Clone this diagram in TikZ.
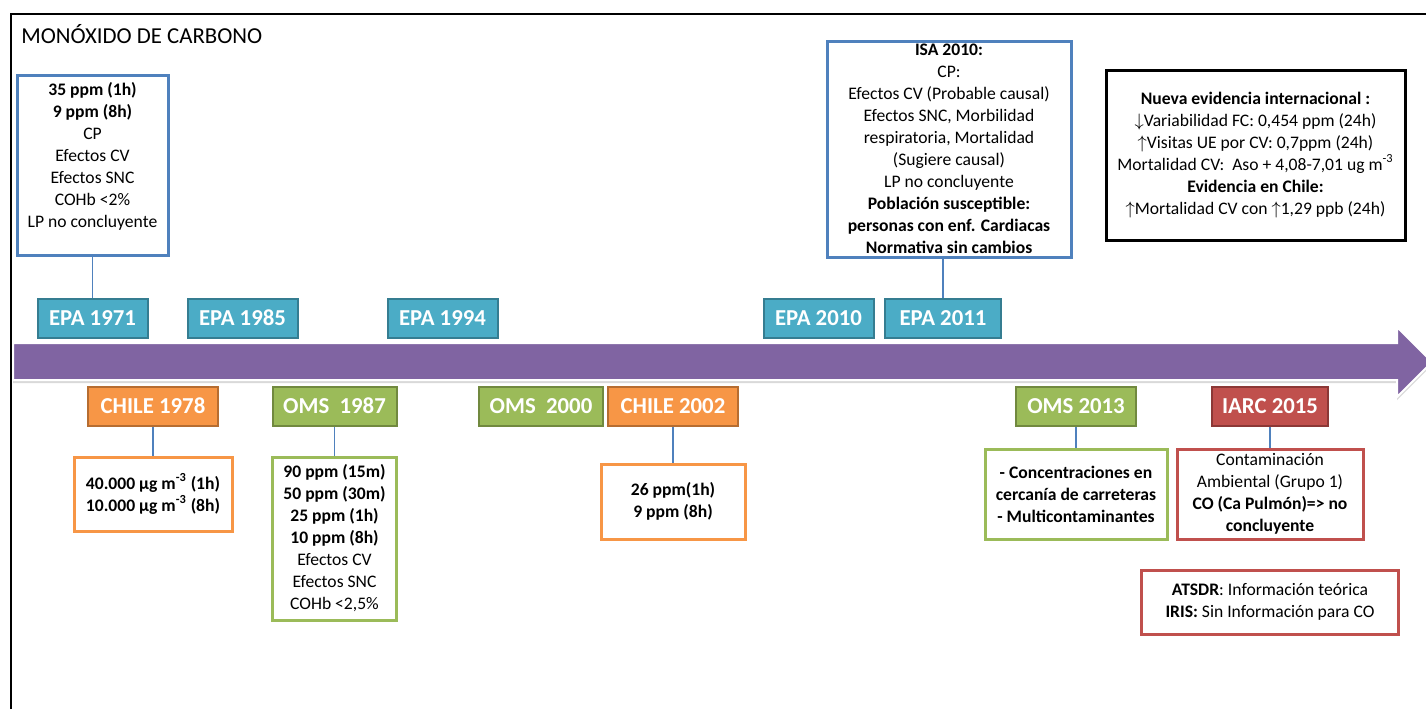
\documentclass[tikz,border=0pt]{standalone}
\usepackage{fontspec}
\setmainfont{Carlito}
\usepackage{tikz}
\usetikzlibrary{positioning}
\definecolor{boxblue}{HTML}{4F81BD}
\definecolor{epateal}{HTML}{4BACC6}
\definecolor{epaedge}{HTML}{357D91}
\definecolor{chileorange}{HTML}{F79646}
\definecolor{chileedge}{HTML}{B66D31}
\definecolor{omsgreen}{HTML}{9BBB59}
\definecolor{omsedge}{HTML}{71893F}
\definecolor{iarcred}{HTML}{C0504D}
\definecolor{iarcedge}{HTML}{8C3836}
\definecolor{timeline}{HTML}{8064A2}

\begin{document}
\begin{tikzpicture}[x=0.5pt,y=-0.5pt,
  tag/.style={line width=1pt,text=white,font=\bfseries\fontsize{11.4}{13}\selectfont,minimum height=19.5pt,inner sep=0pt},
  epatag/.style={tag,fill=epateal,draw=epaedge,minimum width=55pt},
  chiletag/.style={tag,fill=chileorange,draw=chileedge,minimum width=65pt},
  omstag/.style={tag,fill=omsgreen,draw=omsedge,minimum width=62pt},
  iarctag/.style={tag,fill=iarcred,draw=iarcedge,minimum width=58pt},
  infobox/.style={fill=white,line width=1.5pt,align=center,inner sep=0pt,font=\fontsize{8.8}{11}\selectfont},
  link/.style={boxblue,line width=0.6pt}]
\useasboundingbox (0,0) rectangle (1426,709);
\draw[line width=1pt] (11,709) -- (11,14) -- (1426,14);
\node[anchor=west,inner sep=0pt,font=\fontsize{11.4}{13}\selectfont] (title) at (21,34) {MONÓXIDO DE CARBONO};

% time axis
\fill[black!15,yshift=-1.5pt] (13,343) -- (1397,343) -- (1397,327) -- (1432,362) -- (1397,397) -- (1397,380) -- (13,380) -- cycle;
\filldraw[fill=timeline,draw=white,line width=1pt] (13,343) -- (1397,343) -- (1397,327) -- (1432,362) -- (1397,397) -- (1397,380) -- (13,380) -- cycle;

% EPA above the axis
\node[epatag] (epa71) at (92.5,318) {EPA 1971};
\node[epatag] (epa85) at (242.5,318) {EPA 1985};
\node[epatag] (epa94) at (442.5,318) {EPA 1994};
\node[epatag] (epa10) at (818.5,318) {EPA 2010};
\node[epatag,minimum width=58pt] (epa11) at (943,318) {EPA 2011};

% below the axis
\node[chiletag] (chile78) at (153,406) {CHILE 1978};
\node[omstag] (oms87) at (334.5,406) {OMS\ \ 1987};
\node[omstag] (oms00) at (541,406) {OMS\ \ 2000};
\node[chiletag] (chile02) at (673,406) {CHILE 2002};
\node[omstag,minimum width=60pt] (oms13) at (1076,406) {OMS 2013};
\node[iarctag] (iarc15) at (1270,406) {IARC 2015};

% detail boxes
\node[infobox,draw=boxblue,minimum width=75.5pt,minimum height=90pt,text depth=10pt,above=20.5pt of epa71] (epa71info) {\textbf{35 ppm (1h)}\\ \textbf{9 ppm (8h)}\\ CP\\ Efectos CV\\ Efectos SNC\\ COHb <2\%\\ LP no concluyente};
\node[infobox,draw=boxblue,minimum width=122pt,minimum height=108pt,above=19.5pt of epa11,xshift=3pt] (isa10) {\textbf{ISA 2010:}\\ CP:\\ Efectos CV (Probable causal)\\ Efectos SNC, Morbilidad\\ respiratoria, Mortalidad\\ (Sugiere causal)\\ LP no concluyente\\ \textbf{Población susceptible:}\\ \textbf{personas con enf. Cardiacas}\\ \textbf{Normativa sin cambios}};
\node[infobox,draw=black,minimum width=149.5pt,minimum height=85pt] (evidence) at (1255.5,155) {\textbf{Nueva evidencia internacional :}\\ $\downarrow$Variabilidad FC: 0,454 ppm (24h)\\ $\uparrow$Visitas UE por CV: 0,7ppm (24h)\\ Mortalidad CV:\ \ Aso + 4,08-7,01 ug m\textsuperscript{-3}\\ \textbf{Evidencia en Chile:}\\ $\uparrow$Mortalidad CV con $\uparrow$1,29 ppb (24h)};
\node[infobox,draw=chileorange,minimum width=79pt,minimum height=37pt,below=14.5pt of chile78] (chile78info) {\textbf{40.000 µg m\textsuperscript{-3} (1h)}\\ \textbf{10.000 µg m\textsuperscript{-3} (8h)}};
\node[infobox,draw=omsgreen,minimum width=62pt,minimum height=81.5pt,below=14.5pt of oms87] (oms87info) {\textbf{90 ppm (15m)}\\ \textbf{50 ppm (30m)}\\ \textbf{25 ppm (1h)}\\ \textbf{10 ppm (8h)}\\ Efectos CV\\ Efectos SNC\\ COHb <2,5\%};
\node[infobox,draw=chileorange,minimum width=72pt,minimum height=37.5pt,below=18pt of chile02] (chile02info) {\textbf{26 ppm(1h)}\\ \textbf{9 ppm (8h)}};
\node[infobox,draw=omsgreen,minimum width=91pt,minimum height=45pt,below=10.5pt of oms13] (oms13info) {\textbf{- Concentraciones en}\\ \textbf{cercanía de carreteras}\\ \textbf{- Multicontaminantes}};
\node[infobox,draw=iarcred,minimum width=93pt,minimum height=45pt,below=10.5pt of iarc15] (iarc15info) {Contaminación\\ Ambiental (Grupo 1)\\ \textbf{CO (Ca Pulmón)=> no}\\ \textbf{concluyente}};
\node[infobox,draw=iarcred,minimum width=128.5pt,minimum height=32pt,below=14pt of iarc15info] (databases) {\textbf{ATSDR}: Información teórica\\ \textbf{IRIS:} Sin Información para CO};

% connectors
\draw[link] (epa71info) -- (epa71); \draw[link] (epa11.north) -- (epa11.north |- isa10.south);
\draw[link] (chile78) -- (chile78info); \draw[link] (oms87) -- (oms87info); \draw[link] (chile02) -- (chile02info);
\draw[link] (oms13) -- (oms13info); \draw[link] (iarc15) -- (iarc15info);
\end{tikzpicture}
\end{document}
